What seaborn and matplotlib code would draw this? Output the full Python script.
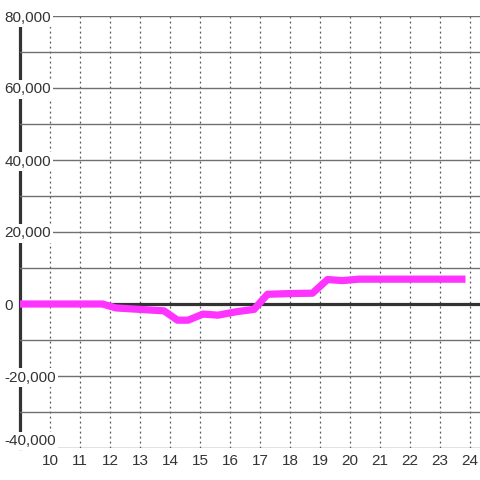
import matplotlib
matplotlib.use("Agg")
import matplotlib.pyplot as plt
import seaborn as sns
import pandas as pd

# hour of day vs value
hours = [9.0, 11.75, 12.2, 13.8, 14.25, 14.6, 15.1, 15.6, 16.25, 16.8,
         17.25, 18.0, 18.75, 19.25, 19.75, 20.3, 23.85]
values = [0, 0, -1100, -1900, -4500, -4500, -2800, -3100, -2100, -1500,
          2700, 2900, 3000, 6800, 6500, 6900, 6900]

x_ticks = list(range(10, 25))
y_ticks = list(range(-40000, 80001, 20000))
y_minor = list(range(-30000, 80000, 20000))

df = pd.DataFrame({"hour": hours, "value": values})

sns.set_style("white")
plt.rcParams["font.family"] = ["Liberation Sans", "DejaVu Sans"]

fig = plt.figure(figsize=(4.8, 4.8), dpi=100)
ax = fig.add_axes([20 / 480, 32 / 480, 460 / 480, 432 / 480])

sns.lineplot(data=df, x="hour", y="value", ax=ax, color="#ff33ff",
             linewidth=5.2, solid_capstyle="butt", zorder=4)
ax.axhline(0, color="#333333", linewidth=2.3, zorder=3.5)

ax.set_xlim(9, 9 + 460 / 30)
ax.set_ylim(-40000, 80000)
ax.set_xticks(x_ticks)
ax.set_yticks(y_ticks)
ax.set_yticks(y_minor, minor=True)
ax.set_yticklabels([f"{v:,}" for v in y_ticks])
ax.set_xlabel("")
ax.set_ylabel("")

ax.grid(axis="y", which="both", color="#707070", linewidth=1.0, linestyle="-")
ax.grid(axis="x", which="major", color="#555555", linewidth=0.9,
        linestyle=(0, (1.5, 2.5)))

for s in ["top", "right", "bottom"]:
    ax.spines[s].set_visible(False)
ax.spines["left"].set_color("#333333")
ax.spines["left"].set_linewidth(2.3)
ax.spines["left"].set_zorder(0.2)

ax.tick_params(axis="both", which="both", length=0)
ax.tick_params(axis="x", labelsize=11, labelcolor="#333333", pad=4)
ax.tick_params(axis="y", labelsize=11, labelcolor="#333333", pad=11)
for lab in ax.get_yticklabels():
    lab.set_horizontalalignment("left")
    lab.set_bbox(dict(facecolor="white", edgecolor="none", pad=1.5))
ax.get_yticklabels()[0].set_verticalalignment("bottom")

fig.savefig("out.png", dpi=100)
